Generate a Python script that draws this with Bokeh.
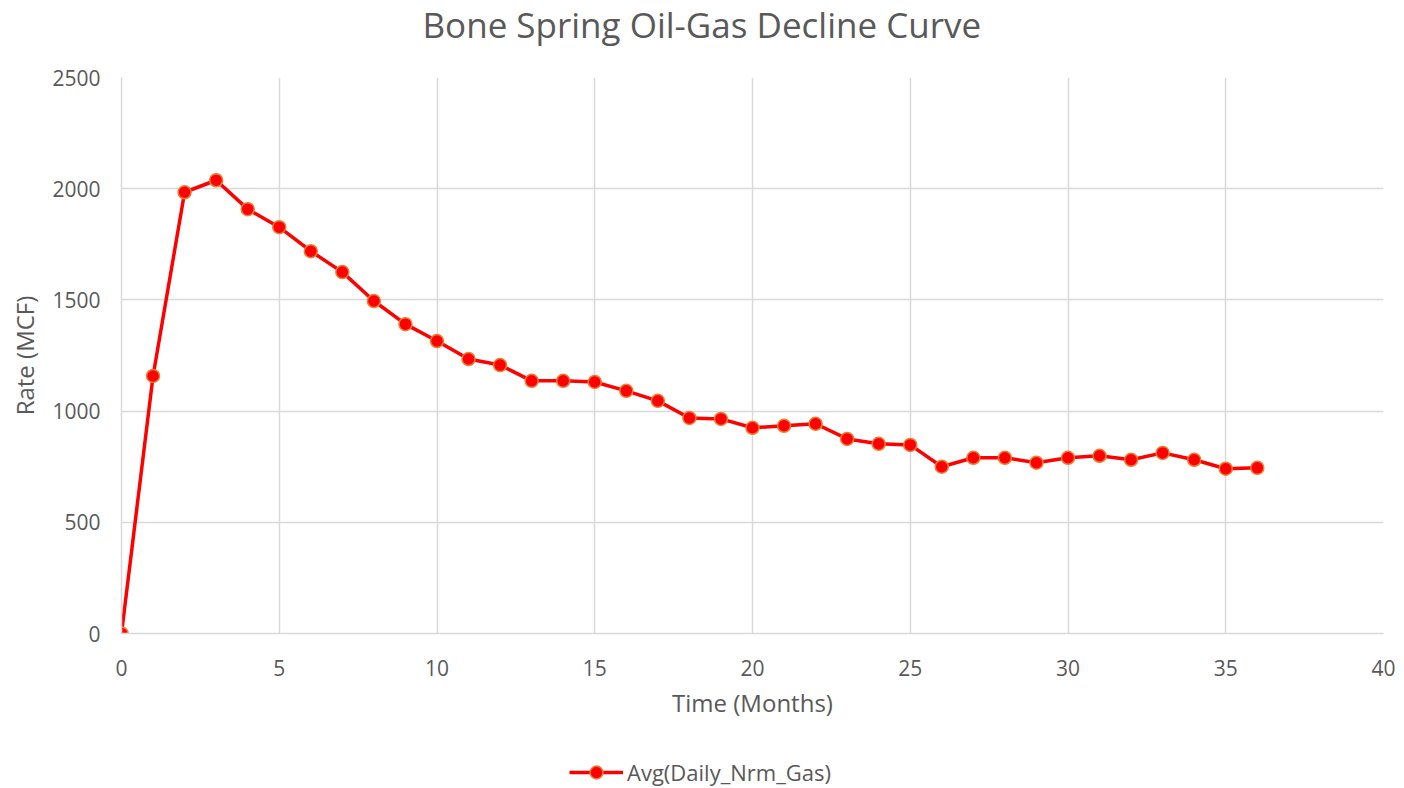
from bokeh.plotting import figure
from bokeh.models import Range1d, SingleIntervalTicker, Title, Legend
from bokeh.layouts import column
from bokeh.embed import file_html
from bokeh.resources import INLINE

months = list(range(0, 37))
gas_rate = [0, 1158, 1984, 2038, 1908, 1827, 1719, 1625, 1495, 1391,
            1315, 1234, 1207, 1136, 1136, 1131, 1091, 1046, 969, 965,
            925, 934, 943, 875, 853, 848, 750, 790, 790, 768,
            790, 799, 781, 812, 781, 741, 745]
series_name = "Avg(Daily_Nrm_Gas)"
title_text = "Bone Spring Oil-Gas Decline Curve"
x_label = "Time (Months)"
y_label = "Rate (MCF)"

FONT = "Open Sans"
TXT = "#595959"
GRID = "#d9d9d9"
LINE_STYLE = dict(line_color="#ff0000", line_width=3.5)
MARK_STYLE = dict(size=13, fill_color="#ff0000", line_color="#ed7d31", line_width=1.5)

p = figure(width=1396, height=728, output_backend="svg", toolbar_location=None,
           x_range=Range1d(0, 40), y_range=Range1d(0, 2500),
           min_border_left=121, min_border_right=13, min_border_top=76, min_border_bottom=95)

p.outline_line_color = None
p.background_fill_color = "white"
p.border_fill_color = "white"

# blank spacer between the title and the plot frame
spacer = Title(text="\u00a0", text_font_size="8px", standoff=17, text_color="white")
p.add_layout(spacer, "above")
t = Title(text=title_text, align="left", vertical_align="top", text_font=FONT,
          text_font_size="35px", text_color=TXT, text_font_style="normal",
          offset=301, standoff=0)
p.add_layout(t, "above")

for ax in (p.xaxis, p.yaxis):
    ax.major_tick_line_color = None
    ax.minor_tick_line_color = None
    ax.axis_line_color = GRID
    ax.axis_line_width = 1.5
    ax.major_label_text_font = FONT
    ax.major_label_text_font_size = "21px"
    ax.major_label_text_color = TXT
    ax.axis_label_text_font = FONT
    ax.axis_label_text_font_size = "24px"
    ax.axis_label_text_color = TXT
    ax.axis_label_text_font_style = "normal"

p.xaxis.ticker = SingleIntervalTicker(interval=5)
p.yaxis.ticker = SingleIntervalTicker(interval=500)
p.xaxis.axis_label = x_label
p.yaxis.axis_label = y_label
p.xaxis.major_label_standoff = 20
p.yaxis.major_label_standoff = 15
p.xaxis.axis_label_standoff = 7
p.yaxis.axis_label_standoff = 8

p.xgrid.grid_line_color = GRID
p.ygrid.grid_line_color = GRID
p.xgrid.grid_line_width = 1.5
p.ygrid.grid_line_width = 1.5

p.line(months, gas_rate, **LINE_STYLE)
p.scatter(months, gas_rate, **MARK_STYLE)

# legend strip below the chart (same series, plotted outside this strip's ranges)
lg = figure(width=1396, height=60, output_backend="svg", toolbar_location=None,
            x_range=Range1d(100, 101), y_range=Range1d(100, 101),
            x_axis_type=None, y_axis_type=None,
            min_border_left=0, min_border_right=0, min_border_top=0, min_border_bottom=0)
lg.outline_line_color = None
lg.xgrid.visible = False
lg.ygrid.visible = False
l1 = lg.line(months, gas_rate, **LINE_STYLE)
l2 = lg.scatter(months, gas_rate, **MARK_STYLE)
legend = Legend(items=[(series_name, [l1, l2])], location=(448, 0),
                orientation="horizontal", border_line_color=None, background_fill_alpha=0,
                padding=0, margin=0, glyph_width=54, glyph_height=32, label_height=32,
                label_text_font=FONT, label_text_font_size="22px", label_text_color=TXT,
                label_standoff=4)
lg.add_layout(legend, "center")

layout = column(p, lg, spacing=0)
open("out.html", "w").write(file_html(layout, INLINE))
